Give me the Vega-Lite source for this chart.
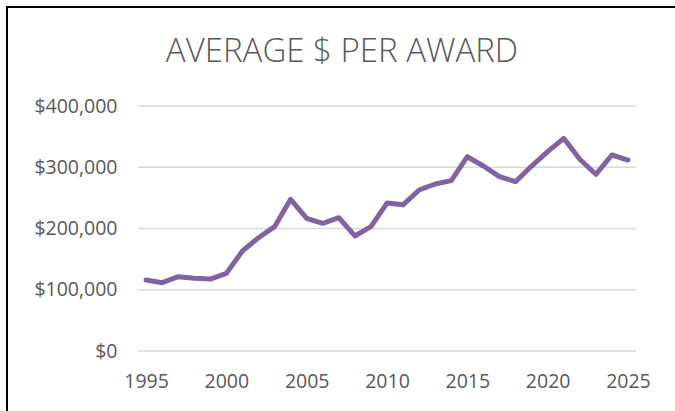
{
  "$schema": "https://vega.github.io/schema/vega-lite/v6.json",
  "autosize": {"type": "none"},
  "padding": {"left": 7, "top": 7, "right": 0, "bottom": 0},
  "width": 670,
  "height": 406,
  "background": "white",
  "config": {
    "view": {"stroke": "black", "strokeWidth": 2, "fill": "white"},
    "font": "Open Sans"
  },
  "title": {
    "text": "AVERAGE $ PER AWARD",
    "font": "Open Sans",
    "fontSize": 33,
    "fontWeight": 300,
    "color": "#595959",
    "anchor": "middle",
    "frame": "group",
    "baseline": "alphabetic",
    "orient": "top",
    "offset": -88
  },
  "datasets": {
    "awards": [
      {"year": 1995, "avg": 115900},
      {"year": 1996, "avg": 111500},
      {"year": 1997, "avg": 121300},
      {"year": 1998, "avg": 118600},
      {"year": 1999, "avg": 117500},
      {"year": 2000, "avg": 126800},
      {"year": 2001, "avg": 163300},
      {"year": 2002, "avg": 185000},
      {"year": 2003, "avg": 203000},
      {"year": 2004, "avg": 247700},
      {"year": 2005, "avg": 216600},
      {"year": 2006, "avg": 208500},
      {"year": 2007, "avg": 217700},
      {"year": 2008, "avg": 187800},
      {"year": 2009, "avg": 203000},
      {"year": 2010, "avg": 241500},
      {"year": 2011, "avg": 238700},
      {"year": 2012, "avg": 262900},
      {"year": 2013, "avg": 272700},
      {"year": 2014, "avg": 278100},
      {"year": 2015, "avg": 317200},
      {"year": 2016, "avg": 302000},
      {"year": 2017, "avg": 284600},
      {"year": 2018, "avg": 276400},
      {"year": 2019, "avg": 302000},
      {"year": 2020, "avg": 325400},
      {"year": 2021, "avg": 347200},
      {"year": 2022, "avg": 313000},
      {"year": 2023, "avg": 288500},
      {"year": 2024, "avg": 320000},
      {"year": 2025, "avg": 311800}
    ],
    "grid": [
      {"v": 0}, {"v": 100000}, {"v": 200000}, {"v": 300000}, {"v": 400000}
    ]
  },
  "layer": [
    {
      "data": {"name": "grid"},
      "mark": {"type": "rule", "color": "#d9d9d9", "strokeWidth": 1.3},
      "encoding": {
        "y": {
          "field": "v", "type": "quantitative",
          "scale": {"domain": [-101224.5, 561632.7], "nice": false, "zero": false},
          "axis": {
            "title": null, "values": [0, 100000, 200000, 300000, 400000],
            "format": "$,.0f", "grid": false, "ticks": false, "domain": false,
            "offset": -118, "labelPadding": 8, "labelFontSize": 19.5,
            "labelColor": "#595959", "labelFont": "Open Sans", "labelFlush": false,
            "labelOverlap": false
          }
        },
        "x": {
          "datum": 1994.5, "type": "quantitative",
          "scale": {"domain": [1986.345, 2028.052], "nice": false, "zero": false},
          "axis": {
            "title": null, "values": [1995, 2000, 2005, 2010, 2015, 2020, 2025],
            "format": "d", "grid": false, "ticks": false, "domain": false,
            "offset": -62, "labelPadding": 21, "labelFontSize": 19.5,
            "labelColor": "#595959", "labelFont": "Open Sans", "labelFlush": false,
            "labelOverlap": false
          }
        },
        "x2": {"datum": 2025.5}
      }
    },
    {
      "data": {"name": "awards"},
      "mark": {"type": "line", "color": "#8064A2", "strokeWidth": 5, "strokeCap": "round", "strokeJoin": "round"},
      "encoding": {
        "x": {"field": "year", "type": "quantitative"},
        "y": {"field": "avg", "type": "quantitative"}
      }
    }
  ]
}
